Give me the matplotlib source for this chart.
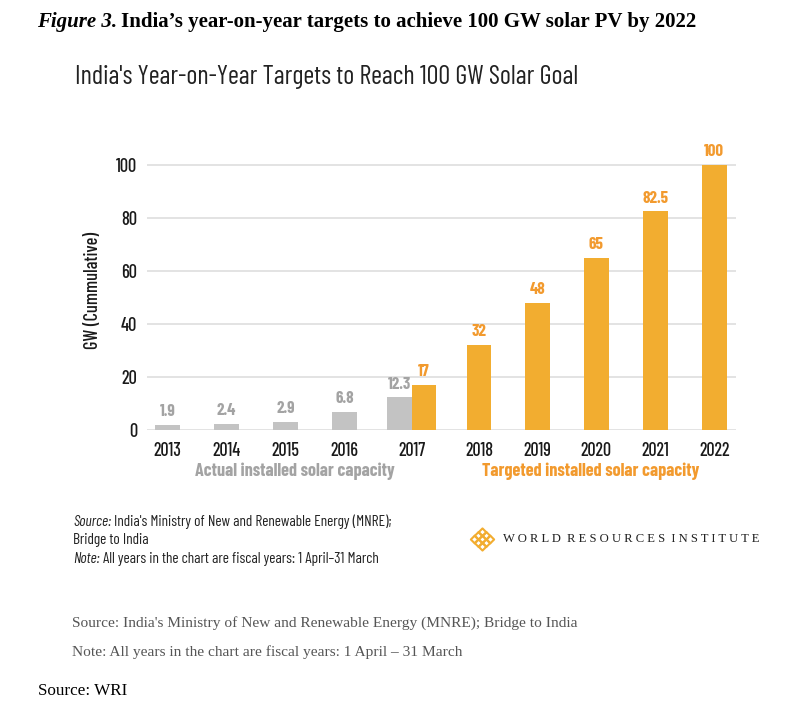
import matplotlib
matplotlib.use("Agg")
import matplotlib.pyplot as plt
import numpy as np

# ---- data ----
years = ["2013", "2014", "2015", "2016", "2017", "2018", "2019", "2020", "2021", "2022"]
actual_years = ["2013", "2014", "2015", "2016", "2017"]
actual_values = [1.9, 2.4, 2.9, 6.8, 12.3]
target_years = ["2017", "2018", "2019", "2020", "2021", "2022"]
target_values = [17, 32, 48, 65, 82.5, 100]
yticks = [0, 20, 40, 60, 80, 100]

# category centres (uneven spacing around the 2017 group, as in the original)
xpos = dict(zip(years, [0, 1, 2, 3, 4.14, 5.28, 6.27, 7.27, 8.27, 9.27]))

GRAY = "#c3c3c3"
GRAY_TXT = "#a3a3a3"
ORANGE = "#f2ad30"
ORANGE_TXT = "#f29a2e"
COND = ["Barlow Condensed", "DejaVu Sans"]
SERIF = ["Liberation Serif", "DejaVu Serif"]

W, H = 788, 717
fig = plt.figure(figsize=(W / 100, H / 100), dpi=100)
fig.patch.set_facecolor("white")
renderer = fig.canvas.get_renderer()


def fx(px):
    return px / W


def fy(py):
    return 1 - py / H


def fit(t, target_w):
    """scale font size so the rendered width matches the reference width (px)"""
    for _ in range(3):
        w = t.get_window_extent(renderer).width
        if w > 0:
            t.set_fontsize(t.get_fontsize() * target_w / w)
    return t


def size_for(text, target_w, **kw):
    t = fig.text(0, 0, text, fontsize=12, **kw)
    fit(t, target_w)
    s = t.get_fontsize()
    t.remove()
    return s


# axes: x from 147 to 736 px, y=0 at 430 px, 2.65 px per unit
ymax = 105
ax = fig.add_axes([fx(147), fy(430), fx(736) - fx(147), ymax * 2.65 / H])
ax.set_xlim(-0.35, 9.64)
ax.set_ylim(0, ymax)
for s in ax.spines.values():
    s.set_visible(False)

tick_size = size_for("2013", 28, family=COND, fontweight="medium")
ytick_size = size_for("100", 21, family=COND, fontweight="medium")
val_size = size_for("82.5", 26, family=COND, fontweight="bold")

ax.set_yticks(yticks)
ax.yaxis.grid(True, color="#e3e3e3", linewidth=1.4)
ax.set_axisbelow(True)
ax.tick_params(axis="y", length=0, pad=7)
ax.set_yticklabels([str(v) for v in yticks], family=COND, fontsize=ytick_size,
                   fontweight="medium", color="#1a1a1a")
ax.set_xticks([xpos[y] for y in years])
ax.set_xticklabels(years, family=COND, fontsize=tick_size, fontweight="medium",
                   color="#1a1a1a")
ax.tick_params(axis="x", length=0, pad=9)

bw = 0.42
off = {"2017": -bw / 2}
ax_a = [xpos[y] + off.get(y, 0) for y in actual_years]
ax.bar(ax_a, actual_values, width=bw, color=GRAY, zorder=3)
off_t = {"2017": bw / 2}
ax_t = [xpos[y] + off_t.get(y, 0) for y in target_years]
ax.bar(ax_t, target_values, width=bw, color=ORANGE, zorder=3)

for x, v in zip(ax_a, actual_values):
    ax.text(x, v + 2.2, f"{v:g}", ha="center", va="bottom", color=GRAY_TXT,
            fontsize=val_size, fontweight="bold", family=COND, clip_on=False)
for x, v in zip(ax_t, target_values):
    ax.text(x, v + 2.2, f"{v:g}", ha="center", va="bottom", color=ORANGE_TXT,
            fontsize=val_size, fontweight="bold", family=COND, clip_on=False)

ylab_size = size_for("GW (Cummulative)", 117, family=COND, fontweight="medium")
ax.set_ylabel("GW (Cummulative)", family=COND, fontsize=ylab_size, fontweight="medium",
              color="#1a1a1a", labelpad=10)

# group captions
fit(fig.text(fx(295), fy(471), "Actual installed solar capacity", ha="center", va="center",
             color=GRAY_TXT, fontsize=13, fontweight="bold", family=COND), 200)
fit(fig.text(fx(591), fy(471), "Targeted installed solar capacity", ha="center", va="center",
             color=ORANGE_TXT, fontsize=13, fontweight="bold", family=COND), 216)

# headings
t1 = fig.text(fx(37), fy(22), "Figure 3.", ha="left", va="center", fontsize=15,
              family=SERIF, fontweight="bold", style="italic")
b1 = t1.get_window_extent(renderer)
t2 = fig.text((b1.x1 + 4) / W, fy(22),
              "India\u2019s year-on-year targets to achieve 100 GW solar PV by 2022",
              ha="left", va="center", fontsize=15, family=SERIF, fontweight="bold")
w_all = t2.get_window_extent(renderer).x1 - b1.x0
scale = 660 / w_all
t1.set_fontsize(15 * scale)
b1 = t1.get_window_extent(renderer)
t2.set_fontsize(15 * scale)
t2.set_x((b1.x1 + 4) / W)

fit(fig.text(fx(75), fy(77), "India's Year-on-Year Targets to Reach 100 GW Solar Goal",
             ha="left", va="center", fontsize=18, family=COND, color="#222222"), 503)


# footnotes in chart image
def mixed(x, y, italic, rest, size, family, color):
    t = fig.text(fx(x), fy(y), italic, ha="left", va="center", fontsize=size,
                 family=family, style="italic", color=color)
    b = t.get_window_extent(renderer)
    fig.text((b.x1 + 3) / W, fy(y), rest, ha="left", va="center", fontsize=size,
             family=family, color=color)


fn_size = size_for("Source: India's Ministry of New and Renewable Energy (MNRE);", 319, family=COND)
mixed(73, 522, "Source:", "India's Ministry of New and Renewable Energy (MNRE);", fn_size, COND, "#222222")
fig.text(fx(73), fy(540), "Bridge to India", ha="left", va="center", fontsize=fn_size,
         family=COND, color="#222222")
mixed(73, 559, "Note:", "All years in the chart are fiscal years: 1 April\u201331 March", fn_size, COND, "#222222")

# WRI logo (decorative lattice) and name
logo_ax = fig.add_axes([fx(469), fy(552), fx(27), 25 / H])
logo_ax.set_xlim(-3.5, 3.5)
logo_ax.set_ylim(-3.5, 3.5)
logo_ax.axis("off")
pts = [(i, j) for i in range(-3, 4) for j in range(-3, 4) if abs(i) + abs(j) <= 3 and (i + j) % 2 == 0]
logo_ax.scatter([p[0] for p in pts], [p[1] for p in pts], marker="D", s=16,
                facecolor="none", edgecolor=ORANGE, linewidth=1.5)
fit(fig.text(fx(503), fy(539), "W O R L D   R E S O U R C E S   I N S T I T U T E".replace("   ", "  "),
             ha="left", va="center", fontsize=9.5, family=SERIF, color="#222222"), 259)

# page text
fit(fig.text(fx(72), fy(623), "Source: India's Ministry of New and Renewable Energy (MNRE); Bridge to India",
             ha="left", va="center", fontsize=11, family=SERIF, color="#555555"), 506)
fit(fig.text(fx(72), fy(652), "Note: All years in the chart are fiscal years: 1 April \u2013 31 March",
             ha="left", va="center", fontsize=11, family=SERIF, color="#555555"), 388)
fit(fig.text(fx(38), fy(691), "Source: WRI", ha="left", va="center", fontsize=12,
             family=SERIF, color="#000000"), 90)

fig.savefig("out.png", dpi=100)
